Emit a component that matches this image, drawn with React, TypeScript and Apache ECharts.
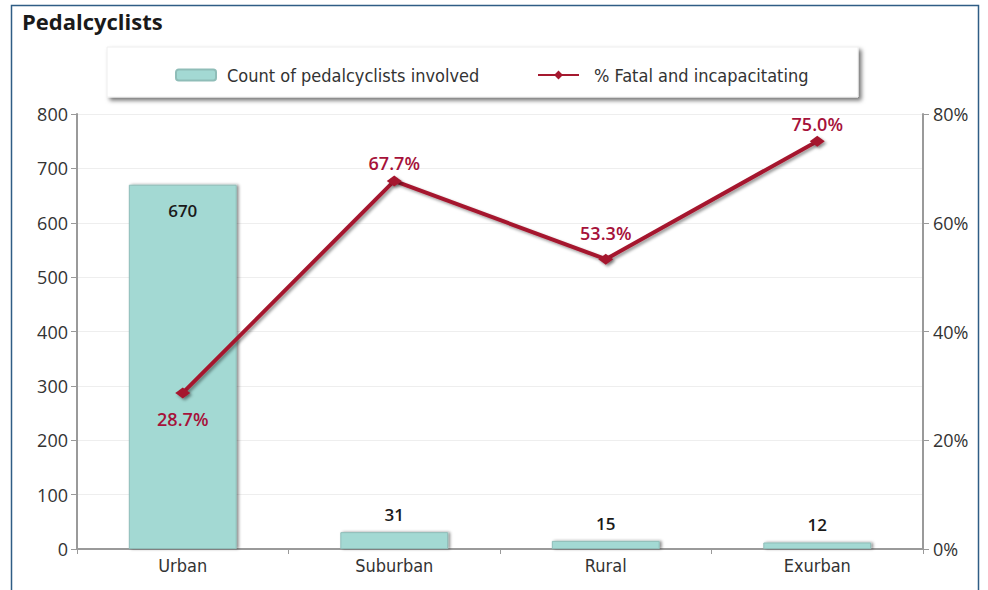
import React, { useEffect, useRef } from "react";
import * as echarts from "echarts";

const categories = ["Urban", "Suburban", "Rural", "Exurban"];
const counts = [670, 31, 15, 12];
const pctFatal = [28.7, 67.7, 53.3, 75.0];
const countLabelInside = [true, false, false, false];
const pctLabelBelow = [true, false, false, false];
const pctLabelDistance = [12, 3, 12, 3];
const leftTicks = [0, 100, 200, 300, 400, 500, 600, 700, 800];
const rightTicks = [0, 20, 40, 60, 80];

const NARROW = "'Liberation Sans Narrow', 'DejaVu Sans Condensed', 'Roboto', sans-serif";
const SANS = "'Open Sans', Lato, sans-serif";

export default function App() {
  const ref = useRef<HTMLDivElement>(null);
  useEffect(() => {
    if (!ref.current) return;
    const chart = echarts.init(ref.current, undefined, { renderer: "svg" });
    const option = {
      animation: false,
      backgroundColor: "#ffffff",
      title: {
        text: "Pedalcyclists",
        left: 17,
        top: 5,
        textStyle: { fontFamily: SANS, fontSize: 22, fontWeight: "bold", color: "#1a1a1a" },
      },
      graphic: [
        {
          type: "rect",
          z: -10,
          shape: { x: 11.5, y: 5.5, width: 967, height: 600 },
          style: { fill: "none", stroke: "#2f5d85", lineWidth: 1.5 },
        },
        {
          type: "rect",
          z: 0,
          shape: { x: 107, y: 47, width: 751, height: 50 },
          style: {
            fill: "#ffffff",
            stroke: "#eeeeee",
            lineWidth: 1,
            shadowBlur: 4,
            shadowOffsetX: 3,
            shadowOffsetY: 3,
            shadowColor: "rgba(0,0,0,0.55)",
          },
        },
      ],
      legend: [
        {
          data: ["Count of pedalcyclists involved"],
          left: 170,
          top: 61,
          itemWidth: 40,
          itemHeight: 11,
          itemGap: 0,
          z: 5,
          textStyle: { fontFamily: NARROW, fontSize: 18, color: "#333", padding: [0, 0, 0, 6] },
        },
        {
          data: ["% Fatal and incapacitating"],
          left: 532,
          top: 61,
          itemWidth: 41,
          itemHeight: 11,
          z: 5,
          textStyle: { fontFamily: NARROW, fontSize: 18, color: "#333", padding: [0, 0, 0, 10] },
        },
      ],
      grid: { left: 77, right: 65, top: 114, bottom: 41 },
      xAxis: {
        type: "category",
        data: categories,
        boundaryGap: true,
        axisLine: { lineStyle: { color: "#9a9a9a", width: 2 } },
        axisTick: { show: true, length: 5, lineStyle: { color: "#9a9a9a", width: 1 } },
        axisLabel: { fontFamily: NARROW, fontSize: 18, color: "#333", margin: 7 },
      },
      yAxis: [
        {
          type: "value",
          min: leftTicks[0],
          max: leftTicks[leftTicks.length - 1],
          interval: 100,
          axisLine: { show: true, lineStyle: { color: "#9a9a9a", width: 2 } },
          axisTick: { show: true, length: 6, lineStyle: { color: "#9a9a9a" } },
          axisLabel: { fontFamily: SANS, fontSize: 18, color: "#333", margin: 9 },
          splitLine: { show: true, lineStyle: { color: "#eeeeee", width: 1 } },
        },
        {
          type: "value",
          min: rightTicks[0],
          max: rightTicks[rightTicks.length - 1],
          interval: 20,
          position: "right",
          axisLine: { show: true, lineStyle: { color: "#9a9a9a", width: 2 } },
          axisTick: { show: true, length: 6, lineStyle: { color: "#9a9a9a" } },
          axisLabel: { fontFamily: SANS, fontSize: 18, color: "#333", margin: 10, formatter: "{value}%" },
          splitLine: { show: false },
        },
      ],
      series: [
        {
          name: "Count of pedalcyclists involved",
          type: "bar",
          yAxisIndex: 0,
          barWidth: "51%",
          data: counts.map((v, i) => ({
            value: v,
            label: countLabelInside[i]
              ? { position: "insideTop", distance: 17 }
              : { position: "top", distance: 9 },
          })),
          itemStyle: {
            color: "#a3d9d3",
            borderColor: "#8fbdb8",
            borderWidth: 1,
            shadowBlur: 3,
            shadowOffsetX: 2,
            shadowOffsetY: 0,
            shadowColor: "rgba(0,0,0,0.45)",
          },
          label: {
            show: true,
            fontFamily: SANS,
            fontSize: 17,
            fontWeight: 600,
            color: "#1a1a1a",
          },
        },
        {
          name: "% Fatal and incapacitating",
          type: "line",
          yAxisIndex: 1,
          symbol: "diamond",
          symbolSize: [15, 11],
          data: pctFatal.map((v, i) => ({
            value: v,
            label: {
              position: pctLabelBelow[i] ? "bottom" : "top",
              distance: pctLabelDistance[i],
            },
          })),
          lineStyle: {
            color: "#a5192f",
            width: 4,
            shadowBlur: 3,
            shadowOffsetX: 2,
            shadowOffsetY: 2,
            shadowColor: "rgba(0,0,0,0.4)",
          },
          itemStyle: {
            color: "#a5192f",
            shadowBlur: 3,
            shadowOffsetX: 2,
            shadowOffsetY: 2,
            shadowColor: "rgba(0,0,0,0.4)",
          },
          label: {
            show: true,
            fontFamily: SANS,
            fontSize: 18,
            fontWeight: 600,
            color: "#a6123a",
            formatter: (p: any) => Number(p.value).toFixed(1) + "%",
          },
          z: 5,
        },
      ],
    };
    chart.setOption(option as any);
    return () => chart.dispose();
  }, []);
  return (
    <div
      ref={ref}
      style={{ position: "fixed", left: 0, top: 0, width: 988, height: 590 }}
    />
  );
}
